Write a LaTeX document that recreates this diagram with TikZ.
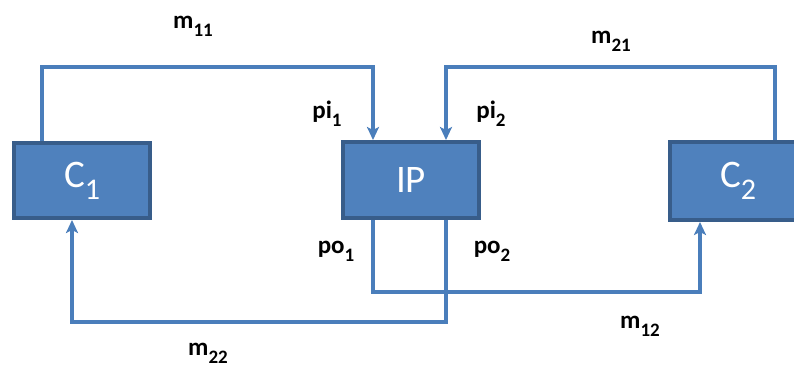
\documentclass[tikz,border=0pt]{standalone}
\usepackage{fontspec}
\setmainfont{Carlito}
\usetikzlibrary{arrows.meta}
\definecolor{boxfill}{HTML}{4F81BD}
\definecolor{boxline}{HTML}{385D8A}
\definecolor{wire}{HTML}{4A7EBB}
\newcommand{\lsub}[1]{\raisebox{-0.32em}{\fontsize{19}{19}\selectfont #1}}
\newcommand{\bsub}[1]{\raisebox{-0.3em}{\fontsize{30}{30}\selectfont #1}}
\tikzset{
  blk/.style={draw=boxline,line width=4pt,fill=boxfill,text=white,font=\fontsize{39}{40}\selectfont,inner sep=0pt},
  wirel/.style={draw=wire,line width=4pt},
  arr/.style={wirel,-{Stealth[length=13pt,width=12pt,inset=3pt]}},
  lab/.style={font=\bfseries\fontsize{25}{27}\selectfont,text=black,inner sep=0pt}
}
\begin{document}
\begin{tikzpicture}[x=1pt,y=-1pt]
\useasboundingbox (0,0) rectangle (794,368);
\begin{scope}
\clip (0,0) rectangle (794,368);
\node[blk,minimum width=136pt,minimum height=75pt,anchor=north west] (c1) at (12,141) {C\bsub{1}};
\node[blk,minimum width=136pt,minimum height=76pt,anchor=north west] (ip) at (341,140) {IP};
\node[blk,minimum width=136pt,minimum height=78pt,anchor=north west] (c2) at (668,140) {C\bsub{2}};
\end{scope}
% connectors
\coordinate (a1) at (42,67);
\coordinate (a2) at (373,67);
\draw[arr] (c1.north west -| a1) -- (a1) -- (a2) -- (ip.north west -| a2);
\coordinate (b1) at (775,67);
\coordinate (b2) at (446,67);
\draw[arr] (c2.north west -| b1) -- (b1) -- (b2) -- (ip.north west -| b2);
\coordinate (d1) at (373,292);
\coordinate (d2) at (700,292);
\draw[arr] (ip.south west -| d1) -- (d1) -- (d2) -- (c2.south west -| d2);
\coordinate (e1) at (446,322);
\coordinate (e2) at (72,322);
\draw[arr] (ip.south west -| e1) -- (e1) -- (e2) -- (c1.south west -| e2);
% labels
\node[lab] (l1) at (193,26) {m\lsub{11}};
\node[lab] (l2) at (327,114) {pi\lsub{1}};
\node[lab] (l3) at (491,114) {pi\lsub{2}};
\node[lab] (l4) at (611,41) {m\lsub{21}};
\node[lab] (l5) at (336,251) {po\lsub{1}};
\node[lab] (l6) at (492,251) {po\lsub{2}};
\node[lab] (l7) at (640,326) {m\lsub{12}};
\node[lab] (l8) at (208,353) {m\lsub{22}};
\end{tikzpicture}
\end{document}
